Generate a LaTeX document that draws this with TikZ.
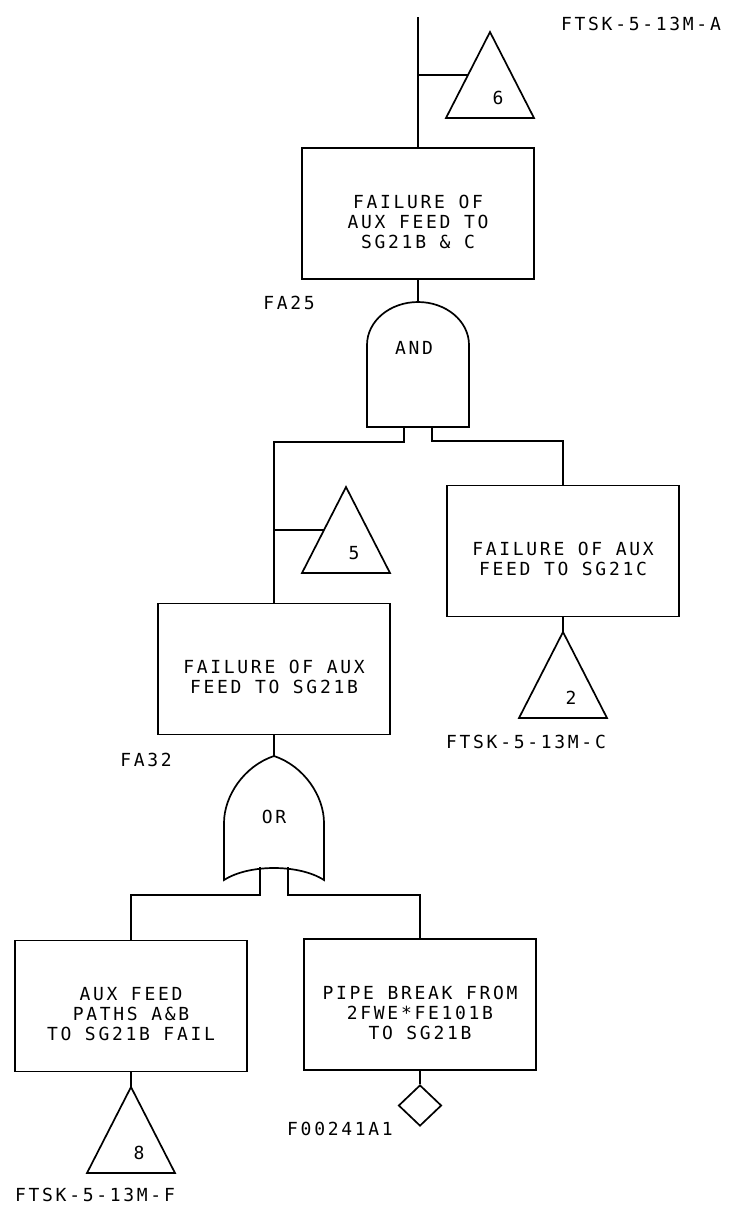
\documentclass[tikz,border=0pt]{standalone}
\usepackage{fontspec}
\newfontfamily\plotter{DejaVu Sans Mono}[LetterSpace=15]
\newcommand\evstrut{\rule{0pt}{30pt}}
\usetikzlibrary{shapes.geometric}

\begin{document}
\begin{tikzpicture}[x=1pt,y=-1pt,
    line width=1.7pt,
    ev/.style={draw,rectangle,minimum width=232pt,minimum height=131pt,
      align=center,inner sep=0pt,font=\plotter\fontsize{18}{20}\selectfont},
    lbl/.style={font=\plotter\fontsize{18}{20}\selectfont,inner sep=0pt},
    basic/.style={draw,diamond,minimum width=43pt,minimum height=41pt,inner sep=0pt},
    xfer/.pic={
      \draw (0,0) coordinate (-apex) -- (-44,86) -- (44,86) -- cycle;
      \coordinate (-side) at (-22,43);
      \node[lbl] (-num) at (8,66) {#1};
    },
    andgate/.pic={
      \draw (0,0) coordinate (-top)
        .. controls (28,0) and (51,19) .. (51,43) -- (51,125) -- (-51,125)
        -- (-51,43) .. controls (-51,19) and (-28,0) .. (0,0);
      \coordinate (-l) at (-14,125);
      \coordinate (-r) at (14,125);
      \node[lbl] (-txt) at (-4,46) {AND};
    },
    orgate/.pic={
      \draw (0,0) coordinate (-top)
        .. controls (30,10) and (50,40) .. (50,67) -- (50,124)
        .. controls (25,108) and (-25,108) .. (-50,124) -- (-50,67)
        .. controls (-50,40) and (-30,10) .. (0,0);
      \coordinate (-l) at (-14,111);
      \coordinate (-r) at (14,111);
      \node[lbl] (-txt) at (0,61) {OR};
    },
  ]
  \useasboundingbox (0,0) rectangle (731,1216);

  % top event
  \coordinate (top) at (418,17);
  \node[ev] (sgbc) at (418,213.5) {\evstrut FAILURE OF\\AUX FEED TO\\SG21B \& C};
  \pic (t6) at (490,32) {xfer=6};
  \node[lbl] (ida) at (641,24) {FTSK-5-13M-A};
  \draw (top) -- (sgbc.north);
  \draw (t6-side) -- (t6-side -| top);

  % AND gate
  \node[lbl] (fa25) at (289,303) {FA25};
  \pic (and) at (418,302) {andgate};
  \draw (sgbc.south) -- (and-top);

  \node[ev] (sgb) at (274,669) {\evstrut FAILURE OF AUX\\FEED TO SG21B};
  \node[ev] (sgc) at (563,551) {\evstrut FAILURE OF AUX\\FEED TO SG21C};
  \pic (t5) at (346,487) {xfer=5};
  \pic (t2) at (563,632) {xfer=2};
  \node[lbl] (idc) at (526,742) {FTSK-5-13M-C};
  \draw (and-l) -- ++(0,15) -| (sgb.north);
  \draw (and-r) -- ++(0,14) -| (sgc.north);
  \draw (t5-side) -- (t5-side -| sgb.north);
  \draw (sgc.south) -- (t2-apex);

  % OR gate
  \node[lbl] (fa32) at (146,760) {FA32};
  \pic (or) at (274,756) {orgate};
  \draw (sgb.south) -- (or-top);

  \node[ev] (paths) at (131,1006) {\evstrut AUX FEED\\PATHS A\&B\\TO SG21B FAIL};
  \node[ev] (pipe) at (420,1004.5) {\evstrut PIPE BREAK FROM\\2FWE*FE101B\\TO SG21B};
  \draw (or-l) -- ++(0,28) -| (paths.north);
  \draw (or-r) -- ++(0,28) -| (pipe.north);
  \pic (t8) at (131,1087) {xfer=8};
  \node[lbl] (idf) at (95,1195) {FTSK-5-13M-F};
  \draw (paths.south) -- (t8-apex);
  \node[basic] (f241) at (420,1105.5) {};
  \node[lbl] (idb) at (340,1129) {F00241A1};
  \draw (pipe.south) -- (f241.north);
\end{tikzpicture}
\end{document}
